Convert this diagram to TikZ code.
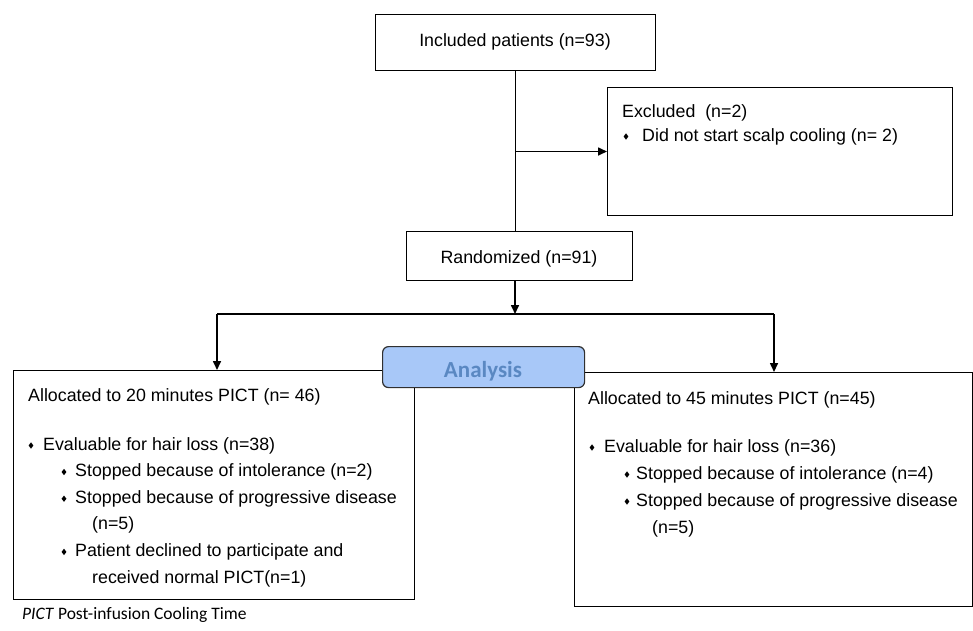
\documentclass[tikz,border=0pt]{standalone}
\usepackage{fontspec}
\setmainfont{Liberation Sans}
\newfontfamily\calibri{Carlito}
\usetikzlibrary{arrows.meta,shapes.geometric}
\definecolor{anfill}{HTML}{A8C8F8}
\definecolor{antext}{HTML}{5A88C2}
\definecolor{anborder}{HTML}{303030}
\begin{document}
\begin{tikzpicture}[x=1pt,y=-1pt,
  box/.style={draw=black,line width=1pt,fill=white,inner sep=0pt},
  conn/.style={line width=1.6pt},
  arr/.style={conn,-{Triangle[length=9pt,width=8pt]}},
  txt/.style={anchor=base west,inner sep=0pt,font=\fontsize{17.8}{21}\selectfont},
  ctxt/.style={txt,anchor=base},
  bulletmark/.style={diamond,fill=black,inner sep=0pt,minimum width=5pt,minimum height=6.5pt}]
\useasboundingbox (0,0) rectangle (973,630);

% boxes
\node[box,anchor=north west,minimum width=280pt,minimum height=56pt] (inc) at (375,14) {};
\node[box,anchor=north west,minimum width=345pt,minimum height=128pt] (exc) at (607,87) {};
\node[box,anchor=north west,minimum width=226pt,minimum height=49pt] (rand) at (406,231) {};
\node[box,anchor=north west,minimum width=401pt,minimum height=229pt] (lbox) at (13,370) {};
\node[box,anchor=north west,minimum width=398pt,minimum height=234pt] (rbox) at (574,372) {};

% connectors
\coordinate (sl) at (217,314);
\coordinate (sr) at (774,314);
\coordinate (sm) at (515,314);
\draw[conn] (inc.south) -- (inc.south |- rand.north);
\draw[arr] (inc.south |- exc.west) -- (exc.west);
\draw[arr] (sm |- rand.south) -- (sm);
\draw[conn] (sl) -- (sr);
\draw[arr] (sl) -- (sl |- lbox.north);
\draw[arr] (sr) -- (sr |- rbox.north);

% analysis banner
\node[draw=anborder,fill=anfill,line width=1.2pt,rounded corners=6pt,anchor=north west,
      minimum width=202pt,minimum height=41pt,inner sep=0pt] (ana) at (382,346) {};
\node[anchor=base,inner sep=0pt,text=antext,font=\calibri\bfseries\fontsize{23}{26}\selectfont] (anat) at (483,377) {Analysis};

% top texts
\node[ctxt] (inct) at (515,46) {Included patients (n=93)};
\node[txt] (exct) at (622,117) {Excluded\ \ (n=2)};
\node[bulletmark] (exb) at (626,136.5) {};
\node[txt] (exct2) at (642,141) {Did not start scalp cooling (n= 2)};
\node[ctxt] (randt) at (519,263) {Randomized (n=91)};

% left box texts
\node[txt] (l1) at (28,401) {Allocated to 20 minutes PICT (n= 46)};
\node[bulletmark] (lb1) at (31,445.5) {};
\node[txt] (l2) at (43,450) {Evaluable for hair loss (n=38)};
\node[bulletmark] (lb2) at (64,472) {};
\node[txt] (l3) at (75,476.6) {Stopped because of intolerance (n=2)};
\node[bulletmark] (lb3) at (64,498.7) {};
\node[txt] (l4) at (75,503.2) {Stopped because of progressive disease};
\node[txt] (l5) at (92,529.8) {(n=5)};
\node[bulletmark] (lb4) at (64,551.9) {};
\node[txt] (l6) at (75,556.4) {Patient declined to participate and};
\node[txt] (l7) at (92,583) {received normal PICT(n=1)};

% right box texts
\node[txt] (r1) at (588,404) {Allocated to 45 minutes PICT (n=45)};
\node[bulletmark] (rb1) at (592,447.5) {};
\node[txt] (r2) at (604,452) {Evaluable for hair loss (n=36)};
\node[bulletmark] (rb2) at (627,474.5) {};
\node[txt] (r3) at (636,479) {Stopped because of intolerance (n=4)};
\node[bulletmark] (rb3) at (627,501.5) {};
\node[txt] (r4) at (636,506) {Stopped because of progressive disease};
\node[txt] (r5) at (652,533) {(n=5)};

% footnote
\node[anchor=base west,inner sep=0pt,font=\calibri\fontsize{17.5}{20}\selectfont] (fn) at (22,619) {\textit{PICT} Post-infusion Cooling Time};
\end{tikzpicture}
\end{document}
